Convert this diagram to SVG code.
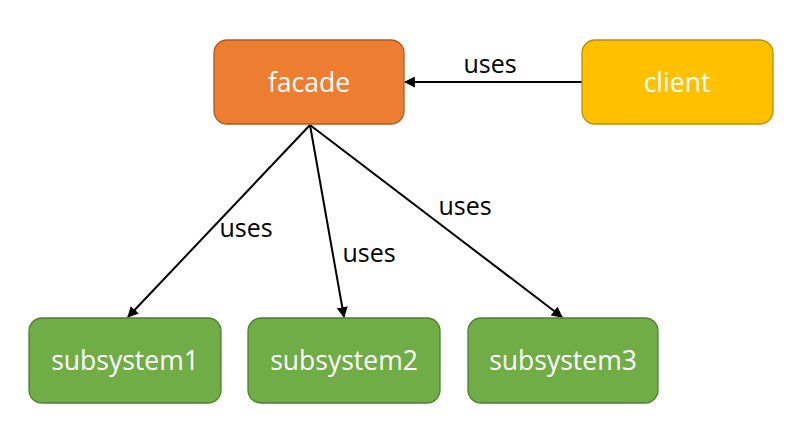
<svg xmlns="http://www.w3.org/2000/svg" width="806" height="440" viewBox="0 0 806 440">
<defs>
<style>
.box{stroke-width:1.3}
.lbl{font-family:"Open Sans","Noto Sans",sans-serif;font-size:26.5px;fill:#ffffff;text-anchor:middle;dominant-baseline:central}
.edge{stroke:#000;stroke-width:2;fill:none;marker-end:url(#arr)}
.elbl{font-family:"Open Sans","Noto Sans",sans-serif;font-size:25px;fill:#000;text-anchor:middle}
</style>
<marker id="arr" viewBox="0 0 10 10" refX="9" refY="5" markerWidth="5.5" markerHeight="5.5" orient="auto">
<path d="M0,0 L10,5 L0,10 z" fill="#000"/>
</marker>
</defs>
<rect width="806" height="440" fill="#fff"/>
<g id="connectors">
<line class="edge" x1="582" y1="82" x2="405" y2="82"/>
<line class="edge" x1="310" y1="125" x2="128" y2="317"/>
<line class="edge" x1="310" y1="125" x2="344" y2="317"/>
<line class="edge" x1="310" y1="125" x2="562" y2="317"/>
<text class="elbl" x="490" y="73">uses</text>
<text class="elbl" x="246" y="237">uses</text>
<text class="elbl" x="369" y="262">uses</text>
<text class="elbl" x="465" y="215">uses</text>
</g>
<g id="facade">
<rect class="box" x="214" y="40" width="190" height="84" rx="13" fill="#ED7D31" stroke="#AE5A21"/>
<text class="lbl" x="309" y="82">facade</text>
</g>
<g id="client">
<rect class="box" x="582" y="40" width="191" height="84" rx="13" fill="#FFC000" stroke="#BC8C00"/>
<text class="lbl" x="677" y="82">client</text>
</g>
<g id="subsystem1">
<rect class="box" x="29" y="318" width="192" height="85" rx="13" fill="#70AD47" stroke="#507E32"/>
<text class="lbl" x="125" y="360">subsystem1</text>
</g>
<g id="subsystem2">
<rect class="box" x="248" y="318" width="192" height="85" rx="13" fill="#70AD47" stroke="#507E32"/>
<text class="lbl" x="344" y="360">subsystem2</text>
</g>
<g id="subsystem3">
<rect class="box" x="468" y="318" width="190" height="85" rx="13" fill="#70AD47" stroke="#507E32"/>
<text class="lbl" x="563" y="360">subsystem3</text>
</g>
</svg>
